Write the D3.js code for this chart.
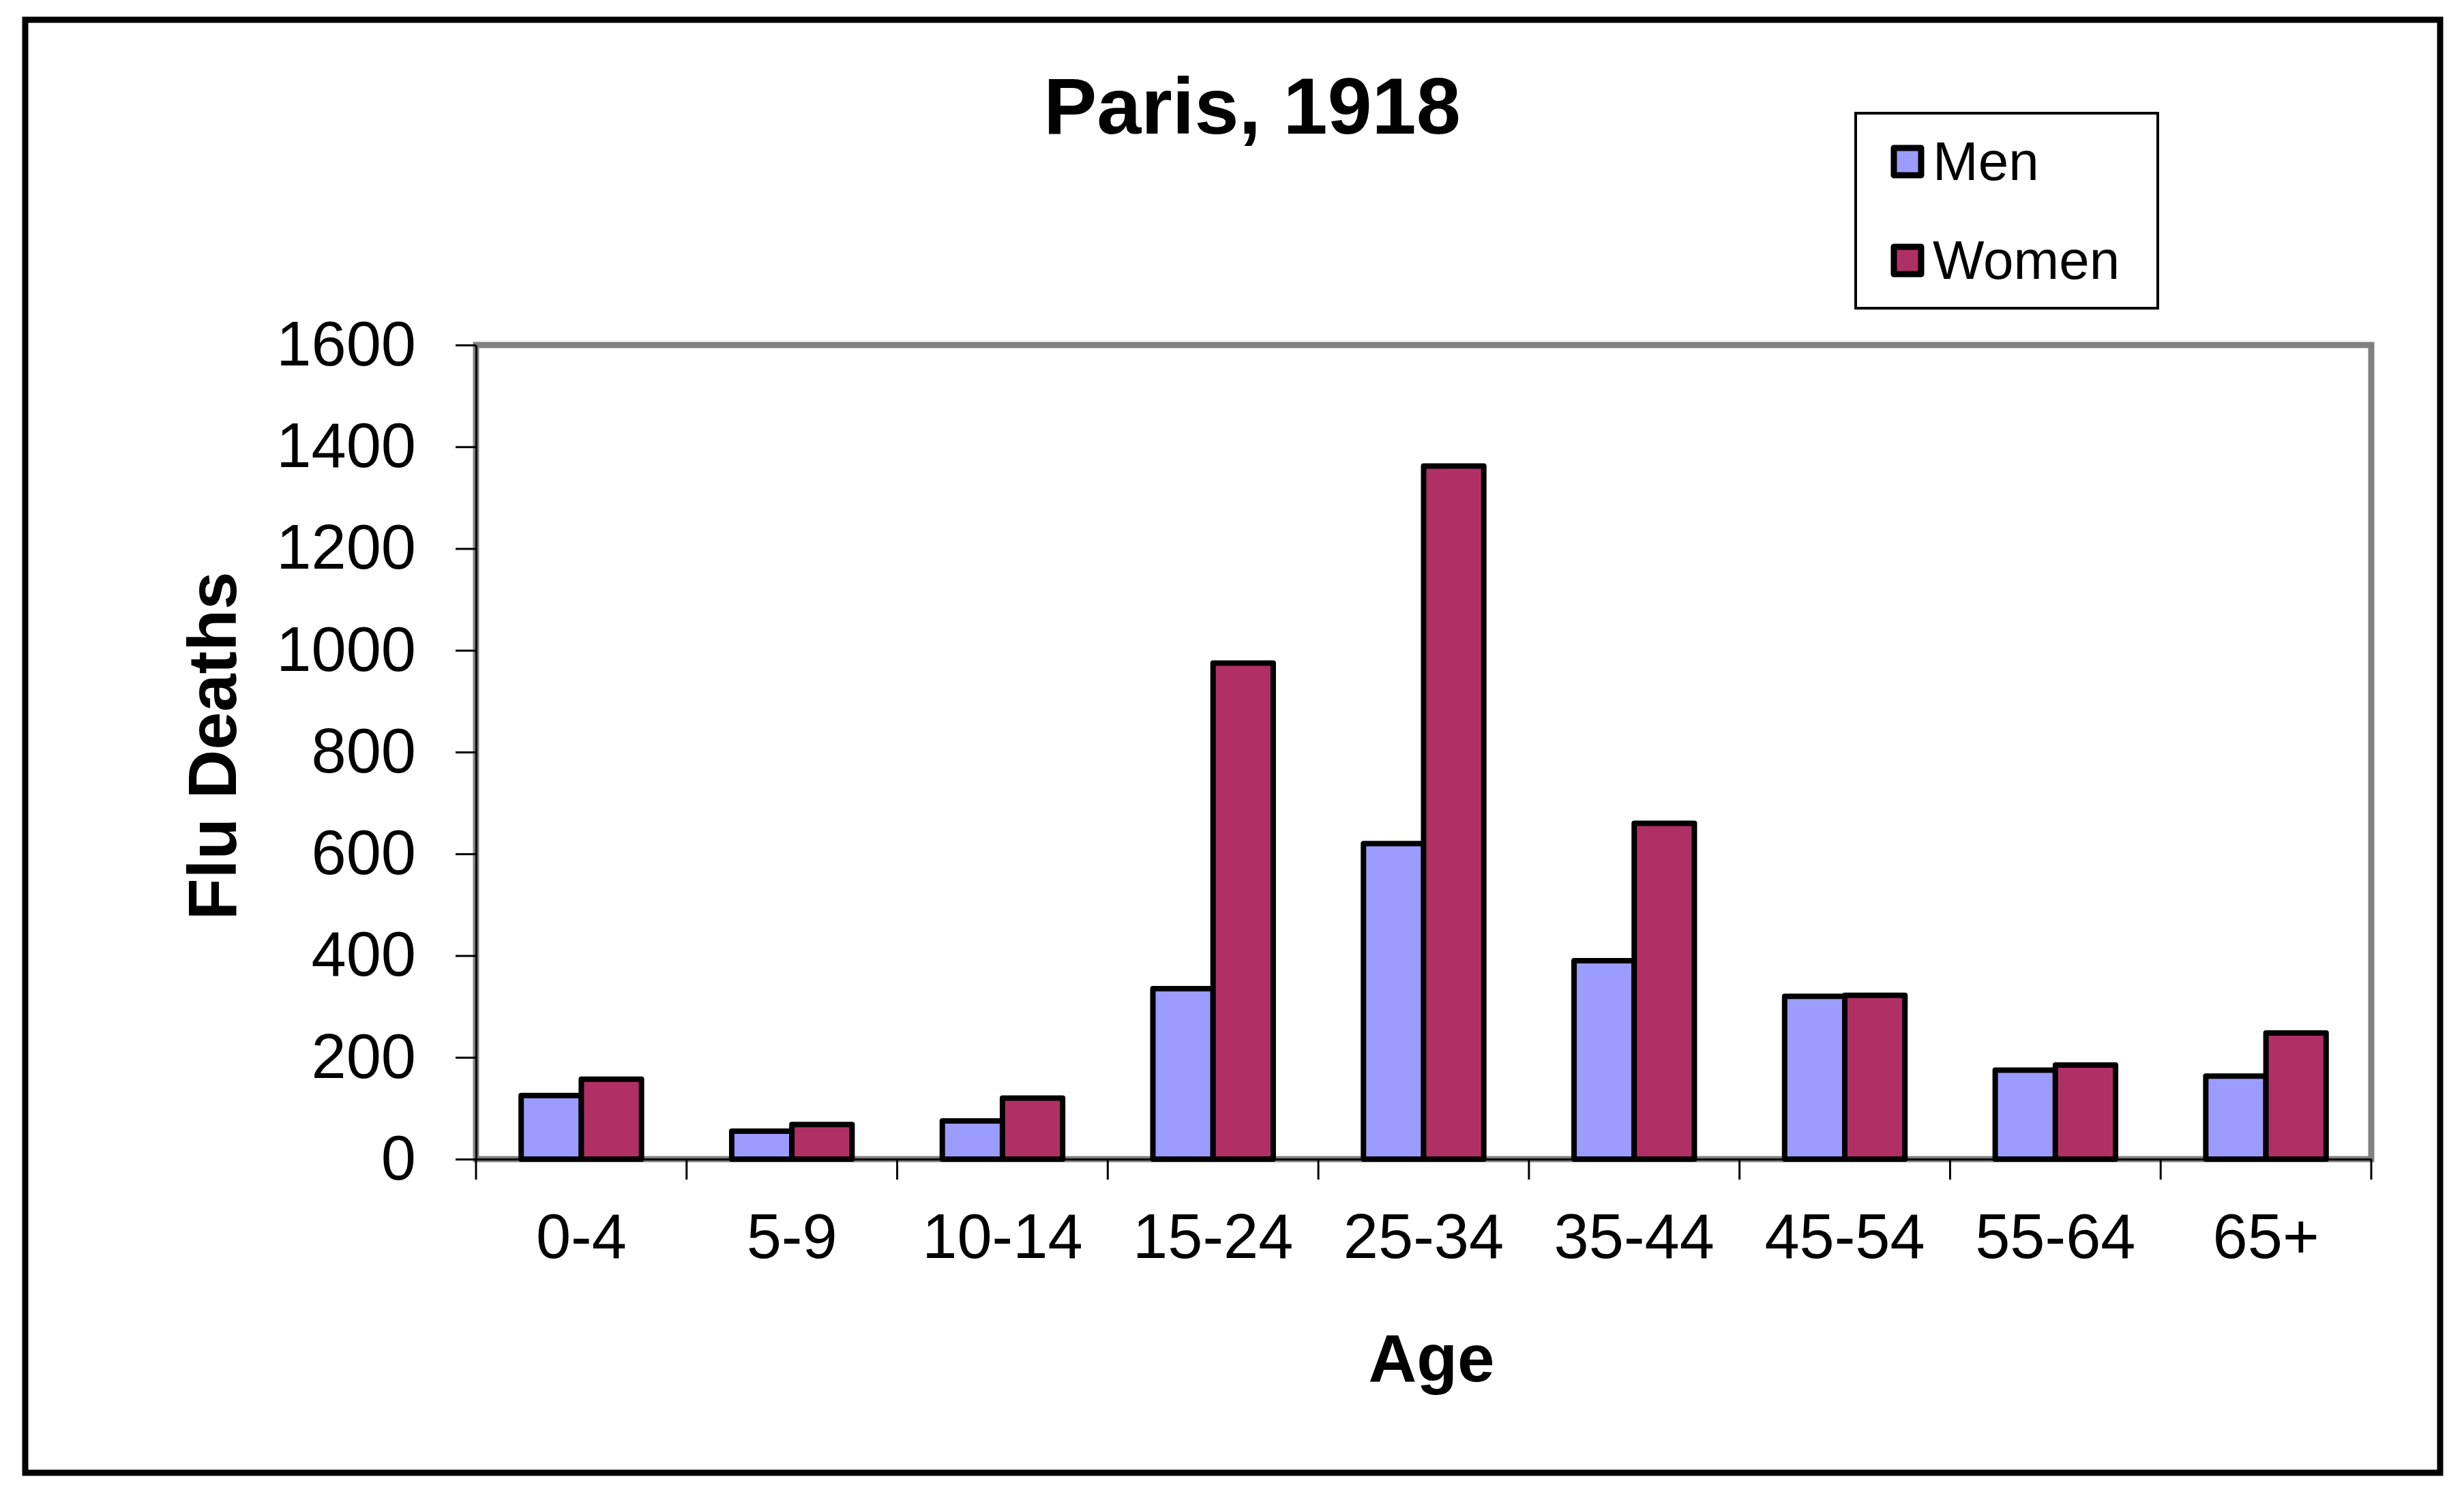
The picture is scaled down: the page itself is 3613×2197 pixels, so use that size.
<!DOCTYPE html>
<html>
<head>
<meta charset="utf-8">
<script src="https://cdn.jsdelivr.net/npm/d3@7"></script>
<style>
  html, body { margin: 0; padding: 0; background: #ffffff; }
  svg { display: block; }
  text { font-family: "Liberation Sans", Arial, sans-serif; fill: #000; }
</style>
</head>
<body>
<script>
// ---- Data ----
const categories = ["0-4", "5-9", "10-14", "15-24", "25-34", "35-44", "45-54", "55-64", "65+"];
const menValues = [125, 55, 75, 335, 620, 390, 320, 175, 163];
const womenValues = [157, 68, 120, 975, 1362, 660, 322, 185, 248];
const seriesNames = ["Men", "Women"];
const seriesColors = ["#9C9CFF", "#B03066"];
const yTickValues = [0, 200, 400, 600, 800, 1000, 1200, 1400, 1600];
const chartTitle = "Paris, 1918";
const xTitle = "Age";
const yTitle = "Flu Deaths";

// ---- Layout ----
const W = 3613, H = 2197;
const plot = { left: 698, right: 3477, top: 506, bottom: 1700 };

const svg = d3.select("body").append("svg").attr("width", W).attr("height", H);

// outer frame
svg.append("rect")
  .attr("x", 37).attr("y", 29).attr("width", 3578 - 37).attr("height", 2160 - 29)
  .attr("fill", "#fff").attr("stroke", "#000").attr("stroke-width", 9);

const x0 = d3.scaleBand().domain(categories).range([plot.left, plot.right]).paddingInner(0).paddingOuter(0);
const x1 = d3.scaleBand().domain(seriesNames).range([0, x0.bandwidth()]).paddingInner(0).paddingOuter(0.75);
const y = d3.scaleLinear().domain([0, 1600]).range([plot.bottom, plot.top]);

// plot area border (gray)
svg.append("rect")
  .attr("x", plot.left).attr("y", plot.top)
  .attr("width", plot.right - plot.left).attr("height", plot.bottom - plot.top)
  .attr("fill", "#fff").attr("stroke", "#808080").attr("stroke-width", 9);

// bars
const rows = categories.map((c, i) => ({ cat: c, vals: [menValues[i], womenValues[i]] }));
const groups = svg.append("g").selectAll("g").data(rows).join("g")
  .attr("transform", d => `translate(${x0(d.cat)},0)`);
groups.selectAll("rect")
  .data(d => d.vals.map((v, k) => ({ key: seriesNames[k], v: v, k: k })))
  .join("rect")
  .attr("x", d => x1(d.key))
  .attr("y", d => y(d.v))
  .attr("width", x1.bandwidth())
  .attr("height", d => y(0) - y(d.v))
  .attr("fill", d => seriesColors[d.k])
  .attr("stroke", "#000").attr("stroke-width", 8).attr("stroke-linejoin", "round");

// y axis
const yAxis = svg.append("g").attr("transform", `translate(${plot.left},0)`)
  .call(d3.axisLeft(y).tickValues(yTickValues).tickFormat(d3.format("d")).tickSize(30).tickPadding(58).tickSizeOuter(0));
yAxis.select(".domain").attr("stroke", "#000").attr("stroke-width", 3);
yAxis.selectAll(".tick line").attr("stroke", "#000").attr("stroke-width", 3);
yAxis.selectAll(".tick text").attr("font-size", 92).attr("font-family", "Liberation Sans, Arial, sans-serif").attr("fill", "#000");

// x axis
const xAxis = svg.append("g").attr("transform", `translate(0,${plot.bottom})`)
  .call(d3.axisBottom(x0).tickSize(0).tickPadding(80));
xAxis.select(".domain").attr("stroke", "#000").attr("stroke-width", 3);
xAxis.selectAll(".tick text").attr("font-size", 92).attr("font-family", "Liberation Sans, Arial, sans-serif").attr("fill", "#000");
// boundary ticks between categories
const boundaries = categories.map(c => x0(c)).concat([plot.right]);
svg.append("g").selectAll("line").data(boundaries).join("line")
  .attr("x1", d => d).attr("x2", d => d)
  .attr("y1", plot.bottom).attr("y2", plot.bottom + 30)
  .attr("stroke", "#000").attr("stroke-width", 3);

// titles
svg.append("text").attr("x", 1836).attr("y", 196).attr("text-anchor", "middle")
  .attr("font-size", 117).attr("font-weight", "bold").text(chartTitle);
svg.append("text").attr("x", 2099).attr("y", 2026).attr("text-anchor", "middle")
  .attr("font-size", 98).attr("font-weight", "bold").text(xTitle);
svg.append("text").attr("transform", "translate(346,1094) rotate(-90)").attr("text-anchor", "middle")
  .attr("font-size", 100).attr("font-weight", "bold").text(yTitle);

// legend
const lg = svg.append("g");
lg.append("rect").attr("x", 2721).attr("y", 166).attr("width", 443).attr("height", 286)
  .attr("fill", "#fff").attr("stroke", "#000").attr("stroke-width", 4);
const legendRows = [237, 382];
seriesNames.forEach((name, i) => {
  lg.append("rect").attr("x", 2777).attr("y", legendRows[i] - 20).attr("width", 40).attr("height", 40)
    .attr("fill", seriesColors[i]).attr("stroke", "#000").attr("stroke-width", 9).attr("stroke-linejoin", "round");
  lg.append("text").attr("x", 2834).attr("y", legendRows[i] + 27).attr("font-size", 80).text(name);
});
</script>
</body>
</html>
